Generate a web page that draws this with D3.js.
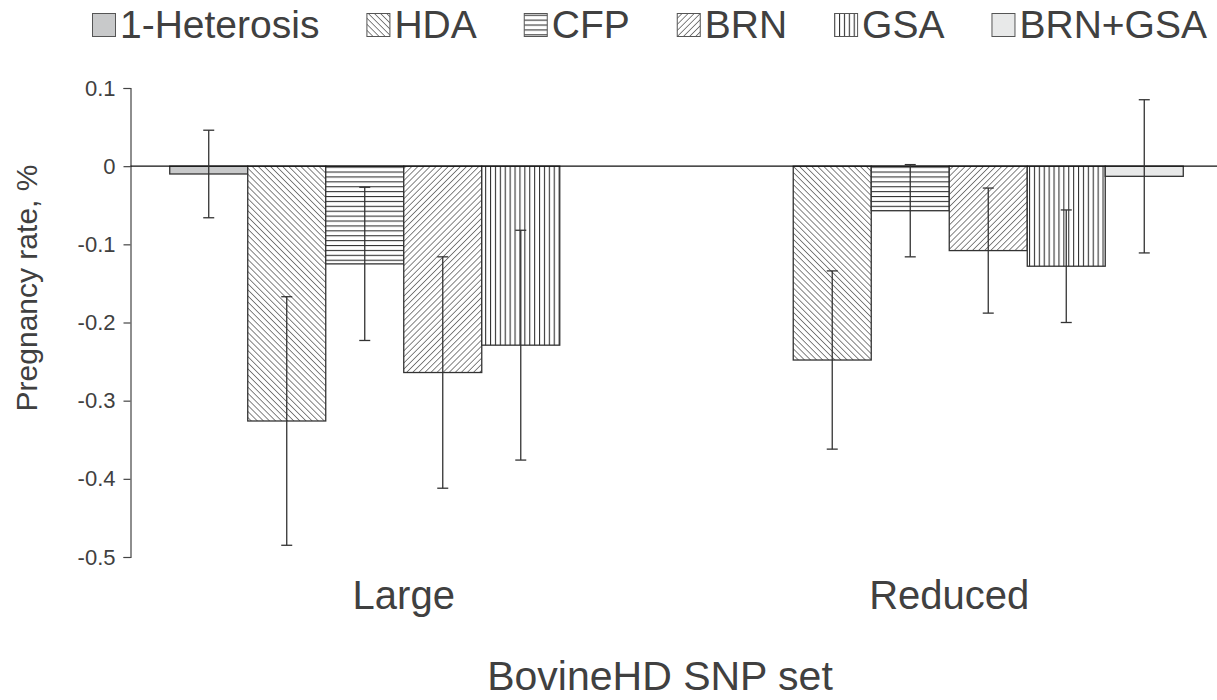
<!DOCTYPE html>
<html>
<head>
<meta charset="utf-8">
<script src="https://cdnjs.cloudflare.com/ajax/libs/d3/7.8.5/d3.min.js"></script>
<style>
  body { margin: 0; background: #fff; }
  text { font-family: "Liberation Sans", Arial, sans-serif; fill: #404040; }
</style>
</head>
<body>
<div id="chart"></div>
<script>
// values
var groups = ["Large", "Reduced"];
var series = ["1-Heterosis", "HDA", "CFP", "BRN", "GSA", "BRN+GSA"];
var largeValues = [-0.010, -0.326, -0.125, -0.264, -0.229, null];
var largeErrors = [0.056, 0.159, 0.098, 0.148, 0.147, null];
var reducedValues = [null, -0.248, -0.057, -0.108, -0.128, -0.013];
var reducedErrors = [null, 0.114, 0.059, 0.080, 0.072, 0.098];
var yTicks = [0.1, 0, -0.1, -0.2, -0.3, -0.4, -0.5];

var svgWidth = 1217, svgHeight = 700;

var svg = d3.select("#chart")
  .append("svg")
  .attr("width", svgWidth)
  .attr("height", svgHeight);

// hatch patterns
var defs = svg.append("defs");
function hatch(id, w, h, path, rot) {
  var p = defs.append("pattern")
    .attr("id", id)
    .attr("patternUnits", "userSpaceOnUse")
    .attr("width", w)
    .attr("height", h);
  if (rot) p.attr("patternTransform", "rotate(" + rot + ")");
  p.append("rect").attr("width", w).attr("height", h).attr("fill", "#fff");
  p.append("path").attr("d", path)
    .attr("stroke", "#333").attr("stroke-width", 1.2);
}
hatch("p-hda", 4.3, 10, "M0,0V10", -45);
hatch("p-cfp", 10, 4.9, "M0,0.5H10");
hatch("p-brn", 4.3, 10, "M0,0V10", 45);
hatch("p-gsa", 4.9, 10, "M0.5,0V10");

var fills = {
  "1-Heterosis": "#c8c9ca",
  "HDA": "url(#p-hda)",
  "CFP": "url(#p-cfp)",
  "BRN": "url(#p-brn)",
  "GSA": "url(#p-gsa)",
  "BRN+GSA": "#e8e9e9"
};

var rows = [];
groups.forEach(function(g, gi) {
  var vals = gi === 0 ? largeValues : reducedValues;
  var errs = gi === 0 ? largeErrors : reducedErrors;
  series.forEach(function(s, si) {
    if (vals[si] === null) return;
    rows.push({ group: g, series: s, value: vals[si], err: errs[si] });
  });
});

// scales
var x0 = d3.scaleBand()
  .domain(groups)
  .range([131, 1222])
  .paddingInner(0.142)
  .paddingOuter(0.071);

var x1 = d3.scaleBand()
  .domain(series)
  .range([0, x0.bandwidth()]);

var y = d3.scaleLinear()
  .domain([-0.5, 0.1])
  .range([557, 88]);

// y axis
var leftAxis = d3.axisLeft(y)
  .tickValues(yTicks)
  .tickSize(7)
  .tickPadding(8)
  .tickFormat(function(d) { return d === 0 ? "0" : String(d); });

var yAxisG = svg.append("g")
  .attr("transform", "translate(130.5,0)")
  .call(leftAxis);
yAxisG.select(".domain").attr("stroke", "#444").attr("stroke-width", 1.2);
yAxisG.selectAll(".tick line").attr("stroke", "#444").attr("stroke-width", 1.2);
yAxisG.selectAll(".tick text")
  .attr("font-size", 22)
  .attr("font-family", "Liberation Sans, Arial, sans-serif")
  .attr("fill", "#404040");

// bars
var bars = svg.append("g");
bars.selectAll("rect")
  .data(rows)
  .enter()
  .append("rect")
  .attr("x", function(d) { return x0(d.group) + x1(d.series); })
  .attr("y", function(d) { return y(Math.max(0, d.value)); })
  .attr("width", x1.bandwidth())
  .attr("height", function(d) { return Math.abs(y(d.value) - y(0)); })
  .attr("fill", function(d) { return fills[d.series]; })
  .attr("stroke", "#333")
  .attr("stroke-width", 1.3);

// zero line
svg.append("line")
  .attr("x1", 130.5).attr("x2", svgWidth)
  .attr("y1", y(0)).attr("y2", y(0))
  .attr("stroke", "#111").attr("stroke-width", 1.4);

// error bars
var errG = svg.append("g")
  .attr("stroke", "#333")
  .attr("stroke-width", 1.3);
rows.forEach(function(d) {
  var cx = x0(d.group) + x1(d.series) + x1.bandwidth() / 2;
  var top = y(d.value + d.err), bot = y(d.value - d.err);
  errG.append("line").attr("x1", cx).attr("x2", cx).attr("y1", top).attr("y2", bot);
  errG.append("line").attr("x1", cx - 5.5).attr("x2", cx + 5.5).attr("y1", top).attr("y2", top);
  errG.append("line").attr("x1", cx - 5.5).attr("x2", cx + 5.5).attr("y1", bot).attr("y2", bot);
});

// group labels
svg.append("g").selectAll("text")
  .data(groups)
  .enter()
  .append("text")
  .attr("x", function(d) { return x0(d) + x0.bandwidth() / 2; })
  .attr("y", 609)
  .attr("text-anchor", "middle")
  .attr("font-size", 40)
  .text(function(d) { return d; });

// axis titles
svg.append("text")
  .attr("x", 660)
  .attr("y", 690)
  .attr("text-anchor", "middle")
  .attr("font-size", 41)
  .text("BovineHD SNP set");

svg.append("text")
  .attr("transform", "translate(37,288) rotate(-90)")
  .attr("text-anchor", "middle")
  .attr("font-size", 30)
  .text("Pregnancy rate, %");

// legend
var legend = svg.append("g");
var lx = 92;
series.forEach(function(s) {
  var item = legend.append("g").attr("transform", "translate(" + lx + ",0)");
  item.append("rect")
    .attr("x", 0.5).attr("y", 13.5)
    .attr("width", 23).attr("height", 23)
    .attr("fill", fills[s])
    .attr("stroke", "#555").attr("stroke-width", 1);
  var t = item.append("text")
    .attr("x", 28).attr("y", 38)
    .attr("font-size", 39)
    .text(s);
  lx += 28 + t.node().getComputedTextLength() + 47;
});
</script>
</body>
</html>
